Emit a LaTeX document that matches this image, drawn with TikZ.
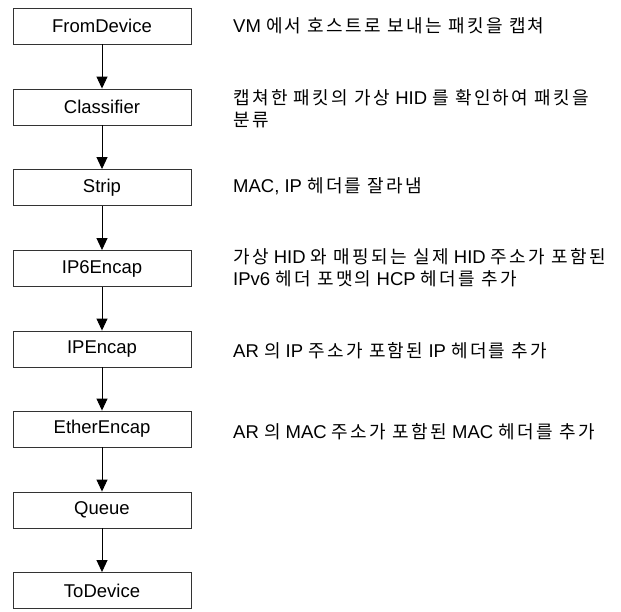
\documentclass[tikz,border=0pt]{standalone}
\usepackage{fontspec}
\setmainfont{Liberation Sans}
\newfontfamily\kr[LetterSpace=13]{Noto Sans CJK KR}
\usetikzlibrary{arrows.meta}
\newcommand\K[1]{{\kr\fontsize{18}{22}\selectfont #1}}
\begin{document}
\begin{tikzpicture}[x=1pt,y=-1pt,
  blk/.style={draw=black!80, line width=0.9pt, minimum width=178pt, minimum height=36pt, inner sep=0pt, font=\fontsize{18.5}{20}\selectfont},
  desc/.style={anchor=west, align=left, inner sep=0pt, font=\fontsize{18.5}{22}\selectfont},
  flow/.style={-{Triangle[width=11pt,length=12pt]}, line width=0.9pt}]
\useasboundingbox[fill=white] (0,0) rectangle (621,611);
\node[blk] (b1) at (102,26) {FromDevice};
\node[blk] (b2) at (102,107) {Classifier};
\node[blk] (b3) at (102,187.5) {Strip};
\node[blk] (b4) at (102,268.5) {IP6Encap};
\node[blk] (b5) at (102,349) {IPEncap};
\node[blk] (b6) at (102,429) {EtherEncap};
\node[blk] (b7) at (102,510) {Queue};
\node[blk] (b8) at (102,590.5) {ToDevice};
\draw[flow] (b1) -- (b2);
\draw[flow] (b2) -- (b3);
\draw[flow] (b3) -- (b4);
\draw[flow] (b4) -- (b5);
\draw[flow] (b5) -- (b6);
\draw[flow] (b6) -- (b7);
\draw[flow] (b7) -- (b8);
\node[desc] (t1) at (233,26) {VM \K{에서 호스트로 보내는 패킷을 캡쳐}};
\node[desc] (t2) at (233,109) {\K{캡쳐한 패킷의 가상} HID \K{를 확인하여 패킷을}\\\K{분류}};
\node[desc] (t3) at (233,186) {MAC, IP \K{헤더를 잘라냄}};
\node[desc] (t4) at (233,268) {\K{가상} HID \K{와 매핑되는 실제} HID \K{주소가 포함된}\\IPv6 \K{헤더 포맷의} HCP \K{헤더를 추가}};
\node[desc] (t5) at (233,351) {AR \K{의} IP \K{주소가 포함된} IP \K{헤더를 추가}};
\node[desc] (t6) at (233,432) {AR \K{의} MAC \K{주소가 포함된} MAC \K{헤더를 추가}};
\end{tikzpicture}
\end{document}
